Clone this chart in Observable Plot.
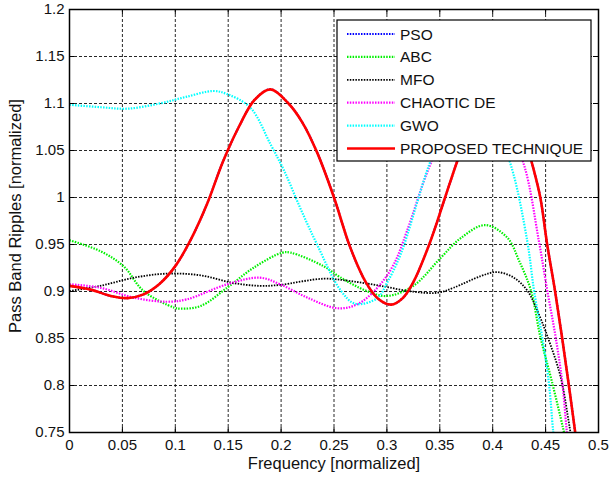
<!DOCTYPE html>
<html>
<head>
<meta charset="utf-8">
<script src="https://cdn.jsdelivr.net/npm/d3@7"></script>
<script src="https://cdn.jsdelivr.net/npm/@observablehq/plot@0.6"></script>
<style>
  body { margin: 0; background: #fff; }
  #chart svg { display: block; }
</style>
</head>
<body>
<div id="chart"></div>
<script>
// Axis ticks and their labels
const xTicks = [0, 0.05, 0.1, 0.15, 0.2, 0.25, 0.3, 0.35, 0.4, 0.45, 0.5];
const xTickLabels = ["0", "0.05", "0.1", "0.15", "0.2", "0.25", "0.3", "0.35", "0.4", "0.45", "0.5"];
const yTicks = [0.75, 0.8, 0.85, 0.9, 0.95, 1, 1.05, 1.1, 1.15, 1.2];
const yTickLabels = ["0.75", "0.8", "0.85", "0.9", "0.95", "1", "1.05", "1.1", "1.15", "1.2"];

// Series names, in drawing order
const seriesNames = ["PSO", "ABC", "MFO", "CHAOTIC DE", "GWO", "PROPOSED TECHNIQUE"];

// Pass band response of each method (normalized frequency, normalized ripple)
const psoFreq   = [0, 0.02, 0.04, 0.055, 0.07, 0.085, 0.1, 0.115, 0.13, 0.145, 0.16, 0.175, 0.19, 0.207, 0.22, 0.234, 0.25, 0.265, 0.28, 0.292, 0.304, 0.315, 0.325, 0.34, 0.355, 0.366, 0.385, 0.405, 0.425, 0.437, 0.445, 0.4515, 0.459, 0.4657, 0.472, 0.478, 0.482];
const psoRipple = [0.906, 0.902, 0.895, 0.893, 0.897, 0.908, 0.927, 0.956, 0.993, 1.038, 1.075, 1.104, 1.115, 1.1, 1.08, 1.048, 1.0, 0.948, 0.91, 0.892, 0.886, 0.893, 0.91, 0.95, 1.0, 1.037, 1.095, 1.117, 1.085, 1.037, 1.0, 0.95, 0.9, 0.85, 0.8, 0.75, 0.715];

const abcFreq   = [0, 0.029, 0.051, 0.07, 0.099, 0.105, 0.124, 0.149, 0.174, 0.201, 0.209, 0.24, 0.256, 0.281, 0.3, 0.325, 0.351, 0.37, 0.393, 0.414, 0.425, 0.436, 0.445, 0.456, 0.4666, 0.472];
const abcRipple = [0.9545, 0.943, 0.927, 0.9005, 0.8828, 0.8817, 0.8846, 0.904, 0.9253, 0.9413, 0.9413, 0.927, 0.915, 0.9005, 0.8952, 0.906, 0.936, 0.957, 0.9707, 0.957, 0.9325, 0.9016, 0.852, 0.804, 0.754, 0.725];

const mfoFreq   = [0, 0.029, 0.061, 0.092, 0.124, 0.155, 0.18, 0.199, 0.24, 0.266, 0.294, 0.325, 0.348, 0.363, 0.389, 0.404, 0.42, 0.433, 0.445, 0.4515, 0.464, 0.4725, 0.477];
const mfoRipple = [0.9005, 0.906, 0.9147, 0.919, 0.9172, 0.909, 0.906, 0.907, 0.9136, 0.911, 0.906, 0.8998, 0.8987, 0.904, 0.9165, 0.9207, 0.9147, 0.9005, 0.872, 0.853, 0.81, 0.757, 0.725];

const chaoticFreq   = [0, 0.029, 0.061, 0.092, 0.111, 0.149, 0.18, 0.199, 0.225, 0.253, 0.272, 0.291, 0.3065, 0.319, 0.335, 0.341, 0.36, 0.385, 0.41, 0.4295, 0.4436, 0.4515, 0.4594, 0.4657, 0.4698, 0.473];
const chaoticRipple = [0.9077, 0.904, 0.8934, 0.8891, 0.8917, 0.9077, 0.9147, 0.9077, 0.8934, 0.8822, 0.8864, 0.904, 0.9289, 0.9644, 1.0176, 1.035, 1.085, 1.11, 1.085, 1.035, 0.954, 0.9016, 0.852, 0.804, 0.754, 0.72];

const gwoFreq   = [0, 0.03, 0.055, 0.086, 0.11, 0.136, 0.149, 0.171, 0.19, 0.203, 0.218, 0.234, 0.256, 0.27, 0.291, 0.3, 0.313, 0.34, 0.357, 0.378, 0.4, 0.417, 0.4326, 0.439, 0.4467, 0.453, 0.457, 0.46];
const gwoRipple = [1.0987, 1.096, 1.0945, 1.1002, 1.107, 1.1133, 1.11, 1.0955, 1.0566, 1.0282, 0.989, 0.95, 0.9016, 0.887, 0.893, 0.909, 0.9396, 1.035, 1.08, 1.1, 1.08, 1.035, 0.954, 0.9016, 0.852, 0.804, 0.753, 0.72];

const proposedFreq   = [0, 0.02, 0.04, 0.055, 0.07, 0.085, 0.1, 0.115, 0.13, 0.145, 0.16, 0.175, 0.19, 0.207, 0.22, 0.234, 0.25, 0.265, 0.28, 0.292, 0.304, 0.315, 0.325, 0.34, 0.355, 0.366, 0.385, 0.405, 0.425, 0.437, 0.445, 0.4515, 0.459, 0.4657, 0.472, 0.478, 0.482];
const proposedRipple = [0.906, 0.902, 0.895, 0.893, 0.897, 0.908, 0.927, 0.956, 0.993, 1.038, 1.075, 1.104, 1.115, 1.1, 1.08, 1.048, 1.0, 0.948, 0.91, 0.892, 0.886, 0.893, 0.91, 0.95, 1.0, 1.037, 1.095, 1.117, 1.085, 1.037, 1.0, 0.95, 0.9, 0.85, 0.8, 0.75, 0.715];

const seriesData = [
  [psoFreq, psoRipple],
  [abcFreq, abcRipple],
  [mfoFreq, mfoRipple],
  [chaoticFreq, chaoticRipple],
  [gwoFreq, gwoRipple],
  [proposedFreq, proposedRipple]
];

// Line styles: MATLAB-like dotted lines, solid thick red for the proposed method
const lineStyles = [
  {stroke: "#0000ff", width: 2.2, dash: "1.5,1.3"},
  {stroke: "#00f000", width: 2.2, dash: "1.5,1.3"},
  {stroke: "#000000", width: 1.8, dash: "1.5,1.3"},
  {stroke: "#ff00ff", width: 2.2, dash: "1.5,1.3"},
  {stroke: "#00ffff", width: 2.2, dash: "1.5,1.3"},
  {stroke: "#ff0000", width: 2.6, dash: null}
];

const W = 610, H = 478;
const mL = 69, mR = 12, mT = 9, mB = 46;
const innerW = W - mL - mR, innerH = H - mT - mB;
const tickLen = 5;
const font = "'Liberation Sans', Arial, Helvetica, sans-serif";

const rows = seriesData.map(([fs, vs], i) =>
  fs.map((f, j) => ({series: seriesNames[i], f, v: vs[j]}))
);

const gridStyle = {stroke: "#000", strokeOpacity: 1, strokeWidth: 0.85, strokeDasharray: "3,2"};

const chart = Plot.plot({
  width: W,
  height: H,
  marginLeft: mL,
  marginRight: mR,
  marginTop: mT,
  marginBottom: mB,
  style: {fontFamily: font, fontSize: "15px", color: "#111", background: "#fff"},
  x: {domain: [0, 0.5]},
  y: {domain: [0.75, 1.2]},
  marks: [
    Plot.gridX(xTicks, gridStyle),
    Plot.gridY(yTicks, gridStyle),
    ...rows.map((data, i) => Plot.line(data, {
      x: "f",
      y: "v",
      stroke: lineStyles[i].stroke,
      strokeWidth: lineStyles[i].width,
      strokeDasharray: lineStyles[i].dash,
      strokeLinecap: "butt",
      curve: "catmull-rom",
      clip: true
    })),
    Plot.frame({stroke: "#000", strokeWidth: 1.5}),
    // inward tick marks on all four sides
    Plot.ruleX(xTicks, {x: d => d, insetTop: innerH - tickLen, stroke: "#000"}),
    Plot.ruleX(xTicks, {x: d => d, insetBottom: innerH - tickLen, stroke: "#000"}),
    Plot.ruleY(yTicks, {y: d => d, insetRight: innerW - tickLen, stroke: "#000"}),
    Plot.ruleY(yTicks, {y: d => d, insetLeft: innerW - tickLen, stroke: "#000"}),
    Plot.axisX(xTicks, {
      tickSize: 0, tickPadding: 7, label: null, fontSize: 15,
      tickFormat: d => xTickLabels[xTicks.indexOf(d)]
    }),
    Plot.axisY(yTicks, {
      tickSize: 0, tickPadding: 5, label: null, fontSize: 15,
      tickFormat: d => yTickLabels[yTicks.indexOf(d)]
    }),
    Plot.text(["Frequency [normalized]"], {
      text: d => d, frameAnchor: "bottom", textAnchor: "middle", lineAnchor: "middle",
      dy: 31, fontSize: 16.5, fill: "#111"
    }),
    Plot.text(["Pass Band Ripples [normalized]"], {
      text: d => d, frameAnchor: "left", textAnchor: "middle", lineAnchor: "middle",
      dx: -54, dy: -5, rotate: -90, fontSize: 16.5, fill: "#111"
    })
  ]
});

document.getElementById("chart").appendChild(chart);

// Legend box in the upper right of the axes
const svg = d3.select(chart);
const legend = svg.append("g")
  .attr("font-family", font)
  .attr("font-size", 15.5)
  .attr("text-anchor", "start");
const boxX = 337, boxY = 20, boxW = 254, boxH = 141;
legend.append("rect")
  .attr("x", boxX).attr("y", boxY).attr("width", boxW).attr("height", boxH)
  .attr("fill", "#fff").attr("stroke", "#000").attr("stroke-width", 1.2);
seriesNames.forEach((name, i) => {
  const cy = boxY + 14 + i * 22.9;
  const s = lineStyles[i];
  legend.append("line")
    .attr("x1", boxX + 10).attr("x2", boxX + 58)
    .attr("y1", cy).attr("y2", cy)
    .attr("stroke", s.stroke).attr("stroke-width", s.width)
    .attr("stroke-dasharray", s.dash);
  legend.append("text")
    .attr("x", boxX + 63).attr("y", cy).attr("dy", "0.36em")
    .attr("text-anchor", "start")
    .attr("fill", "#111").text(name);
});
</script>
</body>
</html>
